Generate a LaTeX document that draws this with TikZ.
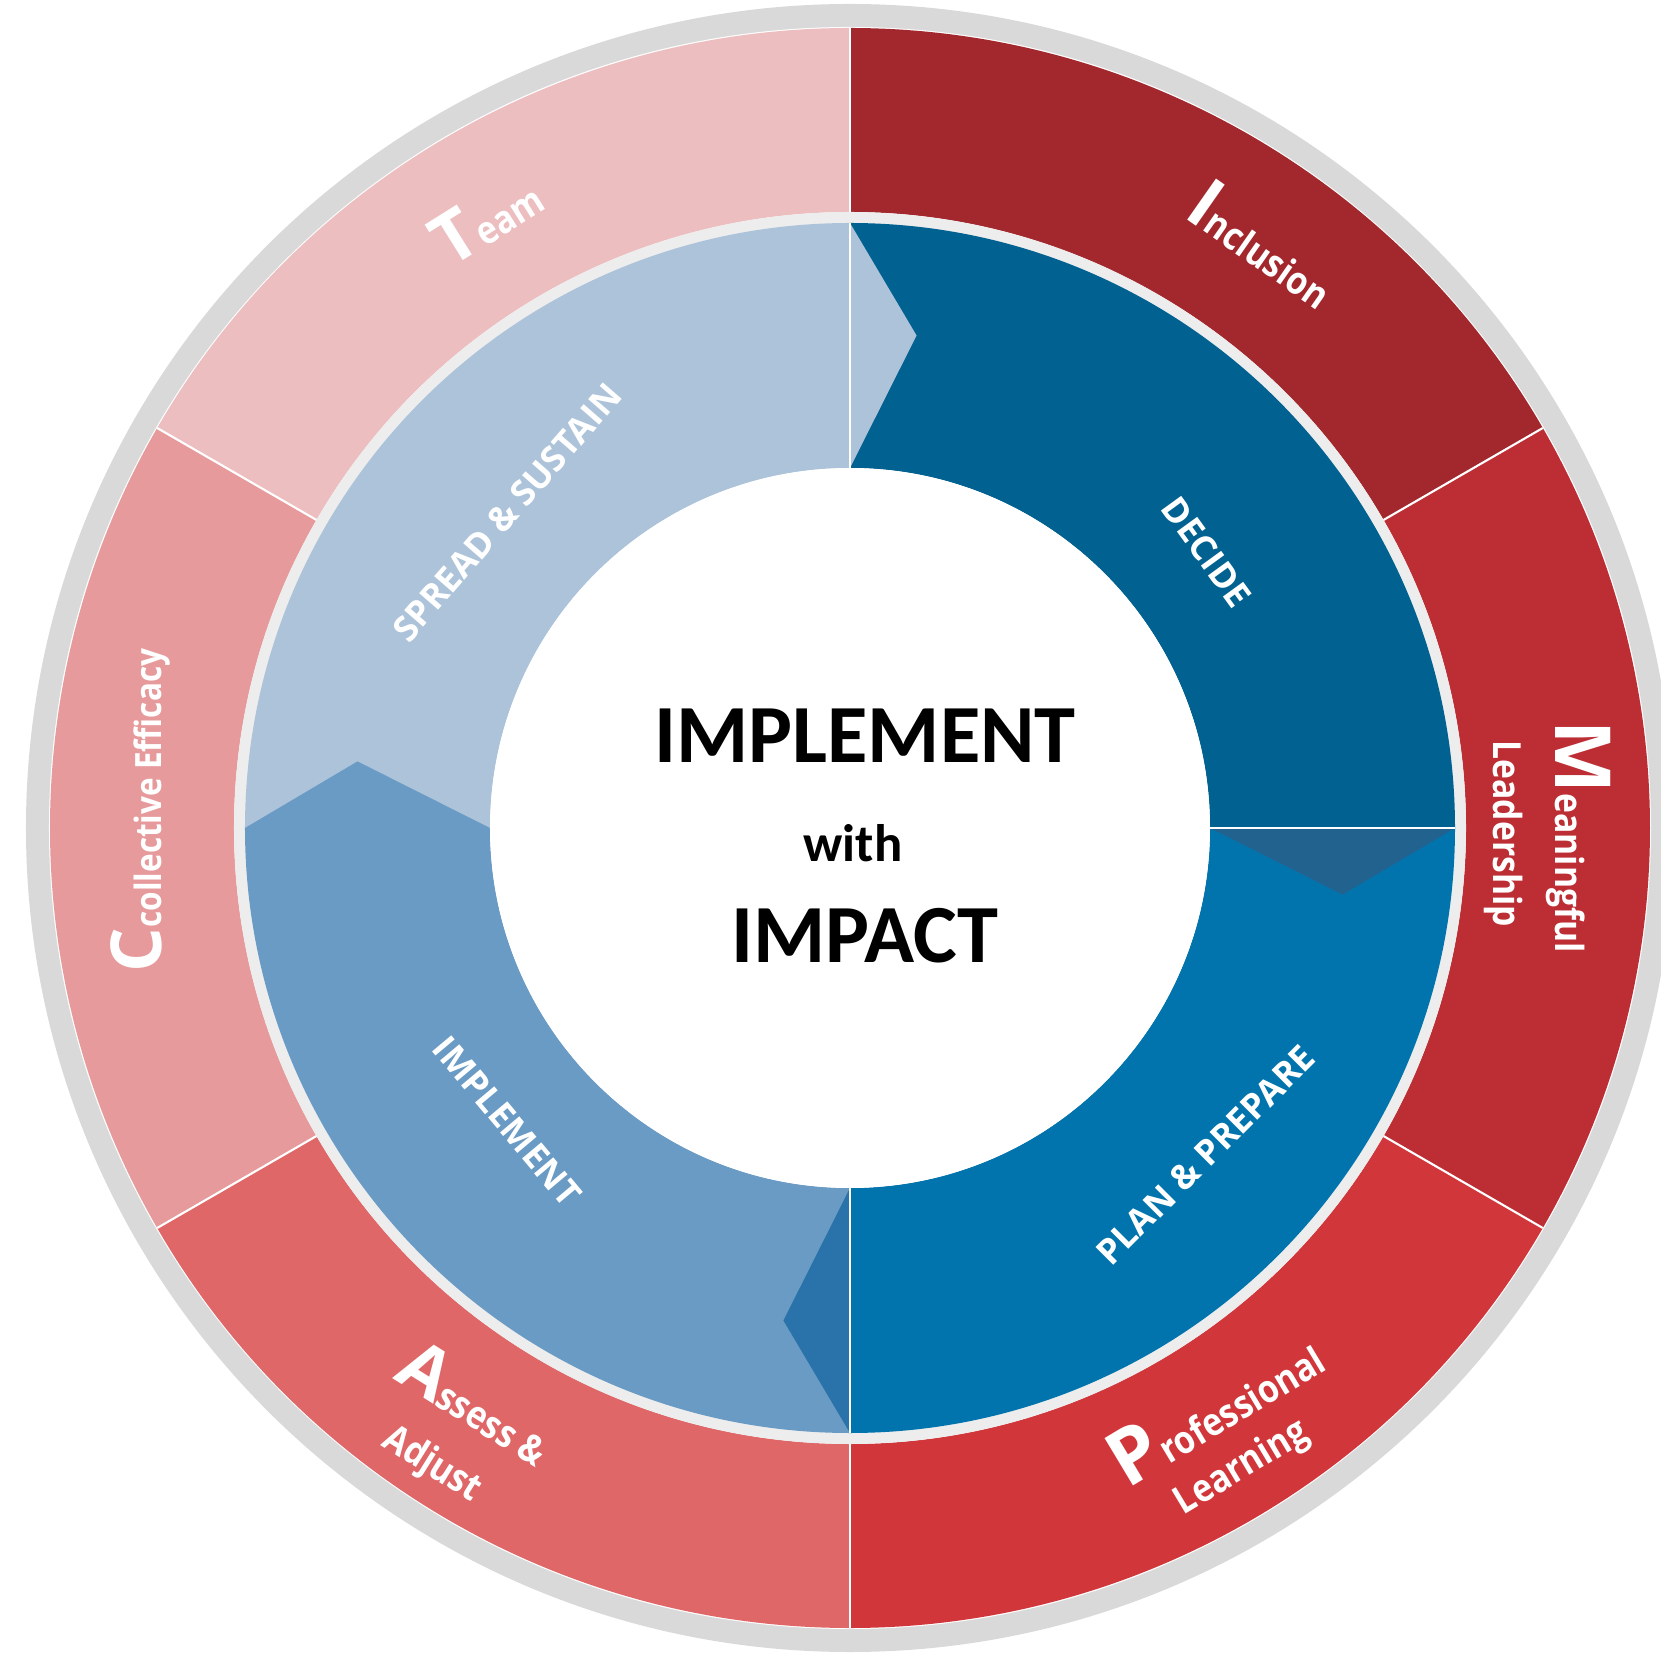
\documentclass[tikz,border=0pt]{standalone}
\usepackage{fontspec}
\newfontfamily\lab{Open Sans}
\newfontfamily\labn{Open Sans}[FakeStretch=0.87]
\newfontfamily\ctr{Carlito}
\definecolor{ringgray}{HTML}{D9D9D9}
\definecolor{gapgray}{HTML}{EDEDED}
\definecolor{rInc}{HTML}{A2282D}
\definecolor{rMea}{HTML}{BC2E34}
\definecolor{rPro}{HTML}{D1363B}
\definecolor{rAss}{HTML}{DF6768}
\definecolor{rCol}{HTML}{E69A9B}
\definecolor{rTea}{HTML}{EDBEC0}
\definecolor{bSpr}{HTML}{ADC3DA}
\definecolor{bImp}{HTML}{6A9BC5}
\definecolor{bPla}{HTML}{0274AD}
\definecolor{bDec}{HTML}{016190}
\definecolor{tipDP}{HTML}{22628F}
\definecolor{tipPI}{HTML}{2A73AA}
\newcommand\annsec[5]{\fill[#1] (#2:#5) arc[start angle=#2,end angle=#3,radius=#5] -- (#3:#4) arc[start angle=#3,end angle=#2,radius=#4] -- cycle;}
\newcommand\biglet[2][20]{{\lab\fontsize{#1}{#1}\selectfont #2}}
\tikzset{
  lbl/.style={font=\labn\bfseries\fontsize{11}{13}\selectfont, text=white, inner sep=0pt},
  blbl/.style={font=\lab\bfseries\fontsize{10}{12}\selectfont, text=white, inner sep=0pt},
  ctrtxt/.style={font=\ctr\bfseries, text=black, inner sep=0pt},
  sepline/.style={draw=white, line width=0.6pt}
}
\begin{document}
\begin{tikzpicture}[x=0.01cm,y=0.01cm]
\useasboundingbox (-850,-827) rectangle (811,828);
\clip (-850,-827) rectangle (811,828);
\fill[white] (-850,-827) rectangle (811,828);
% outer gray ring
\fill[ringgray] (0,0) circle[radius=824];
\fill[white] (0,0) circle[radius=801];
% red segments
\annsec{rInc}{90}{30}{616}{800}
\annsec{rMea}{30}{-30}{616}{800}
\annsec{rPro}{-30}{-90}{616}{800}
\annsec{rAss}{-90}{-150}{616}{800}
\annsec{rCol}{-150}{-210}{616}{800}
\annsec{rTea}{150}{90}{616}{800}
\foreach \a in {90,30,-30,-90,-150,150}{\draw[sepline] (\a:616) -- (\a:800);}
% gap ring
\fill[gapgray] (0,0) circle[radius=616];
% blue quadrants
\annsec{bDec}{90}{0}{360}{605}
\annsec{bPla}{0}{-90}{360}{605}
\annsec{bImp}{-90}{-180}{360}{605}
\annsec{bSpr}{180}{90}{360}{605}
% arrow tips
\fill[bSpr] (90:605) -- (82.3:497) -- (90:360) -- cycle;
\fill[tipDP] (0:605) -- (-7.7:497) -- (0:360) -- cycle;
\fill[tipPI] (-90:605) -- (-97.7:497) -- (-90:360) -- cycle;
\fill[bImp] (180:605) -- (172.3:497) -- (180:360) -- cycle;
\draw[sepline] (90:360) -- (90:605);
\draw[sepline] (0:360) -- (0:605);
\draw[sepline] (-90:360) -- (-90:605);
% inner white disc
\fill[white] (0,0) circle[radius=360];
% center text
\node[ctrtxt, anchor=base, font=\ctr\bfseries\fontsize{23.5}{26}\selectfont] (t1) at (15,65) {IMPLEMENT};
\node[ctrtxt, anchor=base, font=\ctr\bfseries\fontsize{15}{18}\selectfont] (t2) at (3,-34) {with};
\node[ctrtxt, anchor=base, font=\ctr\bfseries\fontsize{23.5}{26}\selectfont] (t3) at (15,-134) {IMPACT};
% blue ring labels
\node[blbl, rotate=-54] (decide) at (37.7:451) {DECIDE};
\node[blbl, rotate=45] (plan) at (-42.6:483) {PLAN \& PREPARE};
\node[blbl, rotate=-50] (impl) at (-139.5:451) {IMPLEMENT};
\node[blbl, rotate=49] (spread) at (137.4:466) {SPREAD \& SUSTAIN};
% red ring labels
\begin{scope}[shift={(-400,559)},rotate=32,transform shape]
\node[lbl, anchor=base west] (team) at (0,0) {\biglet{T}eam};
\end{scope}
\begin{scope}[shift={(332,612)},rotate=-35,transform shape]
\node[lbl, anchor=base west] (incl) at (0,0) {\biglet{I}nclusion};
\end{scope}
\begin{scope}[shift={(705,108)},rotate=-90,transform shape]
\node[lbl, anchor=base west] (mean) at (0,0) {\biglet[22]{M}eaningful};
\node[lbl, anchor=base west] (lead) at (20,-62) {Leadership};
\end{scope}
\begin{scope}[shift={(277,-662)},rotate=31,transform shape]
\node[lbl, anchor=base west] (prof) at (0,0) {\biglet[22]{P}rofessional};
\node[lbl, anchor=base west] (learn) at (35,-51) {Learning};
\end{scope}
\begin{scope}[shift={(-458,-550)},rotate=-32,transform shape]
\node[lbl, anchor=base west] (assess) at (0,0) {\biglet{A}ssess \&};
\node[lbl, anchor=base west] (adjust) at (25,-63) {Adjust};
\end{scope}
\begin{scope}[shift={(-688,-145)},rotate=90,transform shape]
\node[lbl, anchor=base west, font=\labn\bfseries\fontsize{10.3}{12}\selectfont] (coll) at (0,0) {\biglet{C}collective Efficacy};
\end{scope}
\end{tikzpicture}
\end{document}
